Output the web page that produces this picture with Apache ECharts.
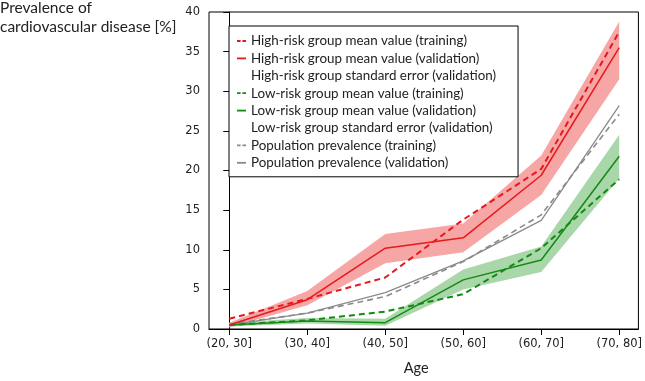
<!DOCTYPE html>
<html><head><meta charset="utf-8">
<script src="https://cdn.jsdelivr.net/npm/echarts@6/dist/echarts.min.js"></script>
<style>html,body{margin:0;padding:0;background:#fff}#c{width:645px;height:381px}</style>
</head><body><div id="c"></div>
<script>
const categories = ['(20, 30]','(30, 40]','(40, 50]','(50, 60]','(60, 70]','(70, 80]'];
const yTicks = [0,5,10,15,20,25,30,35,40];
const highTrain = [1.3, 3.8, 6.5, 13.8, 20.2, 37.5];
const highVal   = [0.5, 3.7, 10.2, 11.5, 19.4, 35.5];
const highSeLow = [0.2, 3.0, 8.3, 9.7, 16.9, 31.5];
const highSeHigh= [0.8, 4.8, 12.0, 13.3, 21.9, 38.8];
const lowTrain  = [0.5, 1.1, 2.2, 4.4, 10.2, 18.9];
const lowVal    = [0.5, 1.0, 0.8, 6.2, 8.7, 21.8];
const lowSeLow  = [0.3, 0.7, 0.4, 5.0, 7.2, 19.0];
const lowSeHigh = [0.8, 1.4, 1.3, 7.5, 10.4, 24.5];
const popTrain  = [0.6, 2.0, 4.1, 8.5, 14.4, 27.1];
const popVal    = [0.5, 2.0, 4.6, 8.6, 13.7, 28.2];
const legendNames = [
 'High-risk group mean value (training)',
 'High-risk group mean value (validation)',
 'High-risk group standard error (validation)',
 'Low-risk group mean value (training)',
 'Low-risk group mean value (validation)',
 'Low-risk group standard error (validation)',
 'Population prevalence (training)',
 'Population prevalence (validation)'
];
const RED='#e8191c', GREEN='#138a13', GRAY='#8a8a8a';
const pts = arr => arr.map((v,i)=>[i,v]);
function band(lowArr, highArr, name, color){
  return {type:'custom', name:name, z:1, silent:true,
    data: lowArr.map((v,i)=>[i, v, highArr[i]]),
    encode:{x:0, y:[1,2]},
    renderItem:(params, api)=>{
      if (params.dataIndex !== 0) return null;
      const top = highArr.map((v,i)=>api.coord([i,v]));
      const bot = lowArr.map((v,i)=>api.coord([i,v])).reverse();
      return {type:'polygon', shape:{points: top.concat(bot)}, style:{fill:color}};
    }
  };
}
function line(arr,name,color,dashed,w){
  return {type:'line', name:name, data:pts(arr), symbol:'none', z:3,
    lineStyle:{color:color, width:w, type: dashed?[6,4]:'solid'}, itemStyle:{color:color}};
}
const series = [
  band(highSeLow, highSeHigh, legendNames[2], '#f7a6a6'),
  band(lowSeLow, lowSeHigh, legendNames[5], '#aad7aa'),
  line(popTrain, legendNames[6], GRAY, true, 1.6),
  line(popVal, legendNames[7], GRAY, false, 1.3),
  line(lowTrain, legendNames[3], GREEN, true, 2),
  line(lowVal, legendNames[4], GREEN, false, 1.5),
  line(highTrain, legendNames[0], RED, true, 2),
  line(highVal, legendNames[1], RED, false, 1.5)
];
const DASH_ICON='path://M0,0H4V2H0Z M6,0H10V2H6Z';
const SOLID_ICON='path://M0,0H10V2H0Z';
const legendColors=[RED,RED,null,GREEN,GREEN,null,GRAY,GRAY];
const legendDashed=[true,false,false,true,false,false,true,false];
const FONT='Lato';
const chart = echarts.init(document.getElementById('c'), null, {renderer:'canvas'});
chart.setOption({
  animation:false,
  grid:{left:209, right:4, top:12, bottom:47.5, show:true, borderColor:'#000', borderWidth:1},
  xAxis:{type:'value', min:-0.26, max:5.246,
    name:'Age', nameLocation:'middle', nameGap:32,
    nameTextStyle:{fontFamily:FONT, fontSize:14.5, color:'#222', padding:[0,15,0,0]},
    axisLine:{show:true, lineStyle:{color:'#000', width:1}},
    splitLine:{show:false},
    axisTick:{show:true, inside:false, length:6, customValues:[0,1,2,3,4,5], lineStyle:{color:'#000'}},
    axisLabel:{customValues:[0,1,2,3,4,5], formatter:v=>categories[Math.round(v)], margin:9,
      fontFamily:'DejaVu Sans', fontSize:11.5, color:'#222'}
  },
  yAxis:{type:'value', min:0, max:40, interval:5,
    axisLine:{show:true, lineStyle:{color:'#000', width:1}},
    splitLine:{show:false},
    axisTick:{show:true, inside:false, length:6, lineStyle:{color:'#000'}},
    axisLabel:{margin:9, fontFamily:'DejaVu Sans', fontSize:11.5, color:'#222',
      formatter:v=>yTicks.includes(v)?String(v):''}
  },
  graphic:[
    {type:'text', left:0, top:0, style:{text:'Prevalence of', font:'15.5px Lato', fill:'#222'}},
    {type:'text', left:0, top:19, style:{text:'cardiovascular disease [%]', font:'15.5px Lato', fill:'#222'}}
  ],
  legend:{orient:'vertical', left:229, top:26, itemWidth:9, itemHeight:12, itemGap:3.4,
    padding:[8,22,7,8], borderColor:'#000', borderWidth:1, backgroundColor:'#fff',
    selectedMode:false, symbolKeepAspect:true,
    textStyle:{fontFamily:FONT, fontSize:13.4, lineHeight:14, color:'#222'},
    data: legendNames.map((n,i)=> legendColors[i]===null
      ? {name:n, icon:'rect', itemStyle:{opacity:0}}
      : {name:n, icon: legendDashed[i]?DASH_ICON:SOLID_ICON, itemStyle:{color:legendColors[i]}})
  },
  series: series
});
</script></body></html>
